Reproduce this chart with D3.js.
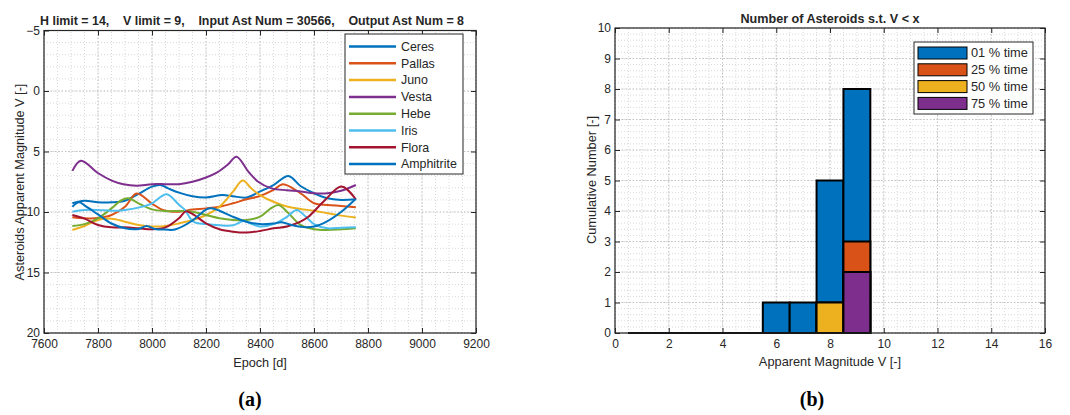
<!DOCTYPE html>
<html>
<head>
<meta charset="utf-8">
<script src="https://cdn.jsdelivr.net/npm/d3@7"></script>
<style>
  body { margin: 0; background: #fff; }
  text { font-family: "Liberation Sans", Arial, sans-serif; fill: #262626; }
  .caption { font-family: "Liberation Serif", "Times New Roman", serif; font-weight: bold; font-size: 20px; fill: #000; }
</style>
</head>
<body>
<div id="fig"></div>
<script>
/* global d3 */

// ---- panel (a): magnitude vs epoch ----
const titleA = 'H limit = 14,    V limit = 9,    Input Ast Num = 30566,    Output Ast Num = 8';
const epochTicks = [7600, 7800, 8000, 8200, 8400, 8600, 8800, 9000, 9200];
const magTicks = [-5, 0, 5, 10, 15, 20];
const asteroidNames = ['Ceres', 'Pallas', 'Juno', 'Vesta', 'Hebe', 'Iris', 'Flora', 'Amphitrite'];

// [epoch, V]
const ceres = [[7705,9.28],[7750,9.07],[7800,9.2],[7850,9.2],[7900,9.07],[7950,8.5],[8000,7.9],[8030,7.77],[8060,8.05],[8100,8.4],[8150,8.7],[8200,8.8],[8260,8.6],[8300,8.7],[8350,8.8],[8400,8.3],[8450,7.77],[8505,7.02],[8550,7.85],[8600,8.45],[8650,8.87],[8700,9.0],[8755,8.95]];
const pallas = [[7705,10.44],[7750,10.52],[7800,10.5],[7850,10.25],[7900,9.56],[7943,8.47],[8000,9.3],[8040,9.83],[8100,9.97],[8150,9.8],[8200,9.7],[8250,9.56],[8300,9.28],[8350,8.95],[8400,8.68],[8450,8.18],[8485,7.7],[8550,8.45],[8600,9.28],[8650,9.42],[8700,9.5],[8755,9.6]];
const juno = [[7705,11.49],[7750,11.16],[7800,10.66],[7850,10.55],[7900,10.8],[7950,11.07],[8000,11.2],[8050,11.16],[8100,10.94],[8150,10.66],[8200,10.25],[8250,9.56],[8300,8.32],[8336,7.4],[8370,8.1],[8400,8.6],[8450,9.15],[8500,9.55],[8550,9.75],[8600,9.9],[8650,10.1],[8700,10.3],[8755,10.45]];
const vesta = [[7705,6.6],[7737,5.76],[7801,6.8],[7851,7.41],[7894,7.71],[7943,7.83],[8000,7.7],[8050,7.7],[8100,7.7],[8150,7.5],[8200,7.15],[8240,6.75],[8280,6.1],[8313,5.43],[8357,6.67],[8393,7.5],[8443,8.05],[8500,8.2],[8550,8.3],[8600,8.45],[8650,8.45],[8700,8.25],[8755,7.77]];
const hebe = [[7705,11.16],[7750,11.0],[7800,10.52],[7850,9.7],[7885,9.05],[7912,8.87],[7950,9.28],[8000,9.78],[8050,9.92],[8100,9.92],[8150,9.97],[8200,10.25],[8250,10.52],[8300,10.66],[8350,10.66],[8400,10.39],[8440,9.7],[8468,9.42],[8500,9.97],[8550,11.07],[8600,11.43],[8650,11.49],[8700,11.43],[8755,11.35]];
const iris = [[7705,9.97],[7750,9.83],[7800,9.83],[7850,9.9],[7900,9.83],[7950,9.64],[8000,9.28],[8054,8.54],[8100,9.4],[8122,9.83],[8153,10.8],[8200,11.0],[8250,11.1],[8300,11.1],[8340,10.75],[8370,11.0],[8400,11.2],[8450,11.0],[8500,10.4],[8536,9.83],[8570,10.4],[8600,11.0],[8650,11.35],[8700,11.3],[8755,11.27]];
const flora = [[7705,10.25],[7750,10.55],[7800,11.07],[7850,11.27],[7900,11.27],[7950,11.35],[8000,11.43],[8050,11.27],[8100,10.52],[8125,9.95],[8150,10.16],[8200,10.94],[8250,11.43],[8300,11.63],[8350,11.7],[8400,11.57],[8450,11.35],[8500,11.2],[8550,10.8],[8579,10.4],[8641,9.0],[8702,7.9],[8755,8.95]];
const amphitrite = [[7705,9.56],[7730,9.2],[7750,9.45],[7800,10.2],[7850,10.95],[7900,11.35],[7950,11.4],[7980,11.15],[8010,11.4],[8050,11.45],[8085,11.45],[8150,10.7],[8200,9.8],[8220,9.7],[8250,9.9],[8300,10.4],[8350,10.8],[8400,11.0],[8450,10.95],[8480,10.85],[8520,11.1],[8560,11.25],[8600,11.2],[8650,10.75],[8700,10.0],[8755,8.9]];
const asteroidSeries = [ceres, pallas, juno, vesta, hebe, iris, flora, amphitrite];
const lineColors = ['#0072BD', '#D95319', '#EDB120', '#7E2F8E', '#77AC30', '#4DBEEE', '#A2142F', '#0072BD'];

// ---- panel (b): cumulative count histogram ----
const titleB = 'Number of Asteroids s.t. V < x';
const magBins = [1, 2, 3, 4, 5, 6, 7, 8, 9];
const count01 = [0, 0, 0, 0, 0, 1, 1, 5, 8];
const count25 = [0, 0, 0, 0, 0, 0, 0, 1, 3];
const count50 = [0, 0, 0, 0, 0, 0, 0, 1, 2];
const count75 = [0, 0, 0, 0, 0, 0, 0, 0, 2];
const countNames = ['01 % time', '25 % time', '50 % time', '75 % time'];
const barColors = ['#0072BD', '#D95319', '#EDB120', '#7E2F8E'];
const vTicks = [0, 2, 4, 6, 8, 10, 12, 14, 16];
const countTicks = [0, 1, 2, 3, 4, 5, 6, 7, 8, 9, 10];

const svg = d3.select('#fig').append('svg')
  .attr('width', 1070)
  .attr('height', 415);

function appendGroupTo (name, parent) {
  return parent.append('g').attr('class', name);
}

// dotted grid (minor + major) and boxed axes with inward ticks, MATLAB-like
function gridAndBox (g, x, y, xMinor, yMinor, xMajor, yMajor, fontSize) {
  const [x0, x1] = x.range();
  const yBot = d3.max(y.range());
  const yTop = d3.min(y.range());
  const grid = appendGroupTo('grid', g);
  grid.append('g').selectAll('line').data(xMinor).join('line')
    .attr('x1', d => x(d)).attr('x2', d => x(d)).attr('y1', yBot).attr('y2', yTop)
    .style('stroke', '#d9d9d9').style('stroke-dasharray', '1,2');
  grid.append('g').selectAll('line').data(yMinor).join('line')
    .attr('x1', x0).attr('x2', x1).attr('y1', d => y(d)).attr('y2', d => y(d))
    .style('stroke', '#d9d9d9').style('stroke-dasharray', '1,2');
  grid.append('g').selectAll('line').data(xMajor).join('line')
    .attr('x1', d => x(d)).attr('x2', d => x(d)).attr('y1', yBot).attr('y2', yTop)
    .style('stroke', '#c4c4c4').style('stroke-dasharray', '1.5,2');
  grid.append('g').selectAll('line').data(yMajor).join('line')
    .attr('x1', x0).attr('x2', x1).attr('y1', d => y(d)).attr('y2', d => y(d))
    .style('stroke', '#c4c4c4').style('stroke-dasharray', '1.5,2');

  const fmt = d3.format('d');
  const axes = appendGroupTo('axes', g);
  axes.append('g').attr('transform', `translate(0, ${yBot})`)
    .call(d3.axisBottom(x).tickValues(xMajor).tickFormat(fmt).tickSizeInner(-5).tickSizeOuter(0).tickPadding(6));
  axes.append('g').attr('transform', `translate(0, ${yTop})`)
    .call(d3.axisTop(x).tickValues(xMajor).tickSizeInner(-5).tickSizeOuter(0).tickFormat(''));
  axes.append('g').attr('transform', `translate(${x0}, 0)`)
    .call(d3.axisLeft(y).tickValues(yMajor).tickFormat(fmt).tickSizeInner(-5).tickSizeOuter(0).tickPadding(4));
  axes.append('g').attr('transform', `translate(${x1}, 0)`)
    .call(d3.axisRight(y).tickValues(yMajor).tickSizeInner(-5).tickSizeOuter(0).tickFormat(''));
  axes.selectAll('.domain').remove();
  axes.selectAll('.tick line').style('stroke', '#262626');
  axes.selectAll('.tick text')
    .style('font-family', '"Liberation Sans", Arial, sans-serif')
    .style('font-size', fontSize + 'px').style('fill', '#262626');
  return axes;
}

function drawBox (g, x, y) {
  const [x0, x1] = x.range();
  const yBot = d3.max(y.range());
  const yTop = d3.min(y.range());
  g.append('rect')
    .attr('x', x0).attr('y', yTop).attr('width', x1 - x0).attr('height', yBot - yTop)
    .style('fill', 'none').style('stroke', '#262626').style('stroke-width', 1.2);
}

// ================= panel (a) =================
function panelA () {
  const g = appendGroupTo('panelA', svg);
  const x = d3.scaleLinear().domain([7600, 9200]).range([44, 476]);
  const y = d3.scaleLinear().domain([-5, 20]).range([30.5, 333]);   // reversed: brighter up

  gridAndBox(g, x, y,
    d3.range(7600, 9201, 50), d3.range(-5, 20.01, 1),
    epochTicks, magTicks, 12);

  const line = d3.line()
    .x(d => x(d[0]))
    .y(d => y(d[1]))
    .curve(d3.curveCatmullRom.alpha(0.5));

  const dataCont = appendGroupTo('dataCont', g);
  dataCont.selectAll('path').data(asteroidSeries).join('path')
    .attr('d', line)
    .style('fill', 'none')
    .style('stroke', (d, i) => lineColors[i])
    .style('stroke-width', 2);

  drawBox(g, x, y);

  g.append('text')
    .attr('x', 252).attr('y', 25)
    .attr('text-anchor', 'middle')
    .style('font-weight', 'bold').style('font-size', '12.4px').style('white-space', 'pre')
    .text(titleA);
  g.append('text')
    .attr('x', 260).attr('y', 367)
    .attr('text-anchor', 'middle').style('font-size', '12.7px')
    .text('Epoch [d]');
  g.append('text')
    .attr('transform', 'translate(24, 182) rotate(-90)')
    .attr('text-anchor', 'middle').style('font-size', '12.7px')
    .text('Asteroids Apparent Magnitude V [-]');

  // legend
  const leg = appendGroupTo('legend', g);
  leg.append('rect')
    .attr('x', 345).attr('y', 34).attr('width', 118).attr('height', 140)
    .style('fill', '#fff').style('stroke', '#262626').style('stroke-width', 1);
  const items = leg.selectAll('.item').data(asteroidNames).join('g')
    .attr('transform', (d, i) => `translate(349, ${46.5 + i * 16.8})`);
  items.append('line')
    .attr('x1', 0).attr('x2', 47)
    .style('stroke', (d, i) => lineColors[i]).style('stroke-width', 2.5);
  items.append('text')
    .attr('x', 52).attr('dy', '0.35em').style('font-size', '12.4px')
    .text(d => d);

  svg.append('text').attr('class', 'caption')
    .attr('x', 250).attr('y', 406).attr('text-anchor', 'middle').text('(a)');
}

// ================= panel (b) =================
function panelB () {
  const g = appendGroupTo('panelB', svg);
  const x = d3.scaleLinear().domain([0, 16]).range([615, 1045]);
  const y = d3.scaleLinear().domain([0, 10]).range([333, 28]);

  gridAndBox(g, x, y,
    d3.range(0, 16.01, 0.5), d3.range(0, 10.01, 0.2),
    vTicks, countTicks, 12);

  const counts = [count01, count25, count50, count75];
  const bars = appendGroupTo('bars', g);
  counts.forEach((vals, k) => {
    bars.append('g').selectAll('path').data(magBins).join('path')
      .attr('d', (b, i) => {
        const p = d3.path();
        p.moveTo(x(b - 0.5), y(0));
        p.lineTo(x(b - 0.5), y(vals[i]));
        p.lineTo(x(b + 0.5), y(vals[i]));
        p.lineTo(x(b + 0.5), y(0));
        p.closePath();
        return p.toString();
      })
      .style('fill', barColors[k])
      .style('stroke', '#000')
      .style('stroke-width', 2);
  });

  drawBox(g, x, y);

  g.append('text')
    .attr('x', (x.range()[0] + x.range()[1]) / 2).attr('y', 23)
    .attr('text-anchor', 'middle')
    .style('font-weight', 'bold').style('font-size', '12.6px')
    .text(titleB);
  g.append('text')
    .attr('x', 830).attr('y', 366)
    .attr('text-anchor', 'middle').style('font-size', '12.8px')
    .text('Apparent Magnitude V [-]');
  g.append('text')
    .attr('transform', 'translate(596, 180) rotate(-90)')
    .attr('text-anchor', 'middle').style('font-size', '12.8px')
    .text('Cumulative Number [-]');

  const leg = appendGroupTo('legend', g);
  leg.append('rect')
    .attr('x', 914).attr('y', 42).attr('width', 119).attr('height', 72)
    .style('fill', '#fff').style('stroke', '#262626').style('stroke-width', 1);
  const items = leg.selectAll('.item').data(countNames).join('g')
    .attr('transform', (d, i) => `translate(918, ${53 + i * 16.8})`);
  items.append('rect')
    .attr('x', 0).attr('y', -6).attr('width', 49).attr('height', 12)
    .style('fill', (d, i) => barColors[i]).style('stroke', '#000').style('stroke-width', 1);
  items.append('text')
    .attr('x', 53).attr('dy', '0.35em').style('font-size', '12.8px')
    .text(d => d);

  svg.append('text').attr('class', 'caption')
    .attr('x', 812).attr('y', 406).attr('text-anchor', 'middle').text('(b)');
}

panelA();
panelB();
</script>
</body>
</html>
